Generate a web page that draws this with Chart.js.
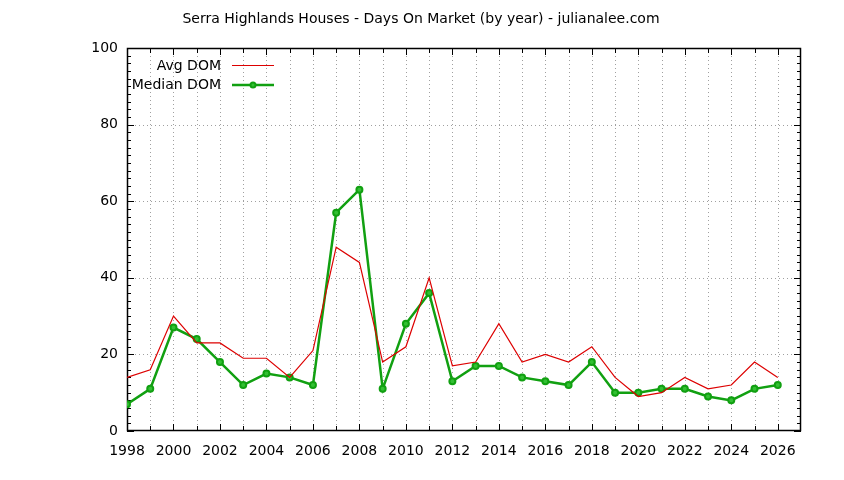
<!DOCTYPE html>
<html>
<head>
<meta charset="utf-8">
<script src="https://cdn.jsdelivr.net/npm/chart.js@4/dist/chart.umd.min.js"></script>
<style>
  html, body { margin: 0; padding: 0; background: #fff; }
  #wrap { width: 844px; height: 480px; }
</style>
</head>
<body>
<div id="wrap"><canvas id="domChart" width="844" height="480"></canvas></div>
<script>
var years = [1998, 1999, 2000, 2001, 2002, 2003, 2004, 2005, 2006, 2007, 2008, 2009, 2010, 2011,
             2012, 2013, 2014, 2015, 2016, 2017, 2018, 2019, 2020, 2021, 2022, 2023, 2024, 2025, 2026];
var avgDom = [14, 16, 30, 23, 23, 19, 19, 14, 21, 48, 44, 18, 22, 40,
              17, 18, 28, 18, 20, 18, 22, 14, 9, 10, 14, 11, 12, 18, 14];
var medianDom = [7, 11, 27, 24, 18, 12, 15, 14, 12, 57, 63, 11, 28, 36,
                 13, 17, 17, 14, 13, 12, 18, 10, 10, 11, 11, 9, 8, 11, 12];
var yTicks = [0, 20, 40, 60, 80, 100];
var titleText = 'Serra Highlands Houses - Days On Market (by year) - julianalee.com';

var FONT = '"DejaVu Sans", Verdana, sans-serif';
var FSIZE = 14;
var RED = '#dd0000';
var GREEN = '#11a011';

function toPoints(vals) {
    return years.map(function(y, i) { return { x: y, y: vals[i] }; });
}

var framePlugin = {
    id: 'frame',
    beforeDatasetsDraw: function(chart) {
        var c = chart.ctx, a = chart.chartArea;
        var xs = chart.scales.x, ys = chart.scales.y;
        c.save();
        // dotted grid
        c.strokeStyle = '#a0a0a0';
        c.lineWidth = 1;
        c.setLineDash([1, 3]);
        years.forEach(function(yr) {
            var px = Math.round(xs.getPixelForValue(yr)) + 0.5;
            if (px <= a.left + 1 || px >= a.right - 1) return;
            c.beginPath(); c.moveTo(px, a.top); c.lineTo(px, a.bottom); c.stroke();
        });
        yTicks.forEach(function(v) {
            var py = Math.round(ys.getPixelForValue(v)) + 0.5;
            if (py <= a.top + 1 || py >= a.bottom - 1) return;
            c.beginPath(); c.moveTo(a.left, py); c.lineTo(a.right, py); c.stroke();
        });
        c.setLineDash([]);
        // tick marks
        c.strokeStyle = '#000';
        c.beginPath();
        for (var v = 0; v <= 100; v += 2) {
            var py = Math.round(ys.getPixelForValue(v)) + 0.5;
            var len = (v % 20 === 0) ? 7 : 4;
            c.moveTo(a.left, py); c.lineTo(a.left + len, py);
            c.moveTo(a.right, py); c.lineTo(a.right - len, py);
        }
        years.forEach(function(yr) {
            var px = Math.round(xs.getPixelForValue(yr)) + 0.5;
            var len = (yr % 2 === 0) ? 7 : 5;
            c.moveTo(px, a.bottom); c.lineTo(px, a.bottom - len);
            c.moveTo(px, a.top); c.lineTo(px, a.top + len);
        });
        c.stroke();
        // border box
        c.lineWidth = 1.5;
        c.strokeRect(a.left + 0.5, a.top + 0.5, a.right - a.left - 1, a.bottom - a.top - 1);
        c.restore();
    },
    afterDraw: function(chart) {
        var c = chart.ctx;
        c.save();
        c.fillStyle = '#000';
        c.font = FSIZE + 'px ' + FONT;
        c.textBaseline = 'middle';
        c.textAlign = 'center';
        c.fillText(titleText, 421, 19);
        // legend
        c.textAlign = 'right';
        c.fillText('Avg DOM', 221, 66);
        c.fillText('Median DOM', 221, 85);
        c.strokeStyle = RED;
        c.lineWidth = 1;
        c.beginPath(); c.moveTo(232, 65.5); c.lineTo(274, 65.5); c.stroke();
        c.strokeStyle = GREEN;
        c.lineWidth = 2.5;
        c.beginPath(); c.moveTo(232, 85); c.lineTo(274, 85); c.stroke();
        c.fillStyle = '#33c033';
        c.lineWidth = 2;
        c.beginPath(); c.arc(253, 85, 2.5, 0, Math.PI * 2); c.fill(); c.stroke();
        c.restore();
    }
};

document.addEventListener('DOMContentLoaded', function() {
    var ctx = document.getElementById('domChart').getContext('2d');
    var myChart = new Chart(ctx, {
        type: 'line',
        data: {
            datasets: [{
                label: 'Avg DOM',
                data: toPoints(avgDom),
                borderColor: RED,
                borderWidth: 1.2,
                pointRadius: 0,
                tension: 0
            }, {
                label: 'Median DOM',
                data: toPoints(medianDom),
                borderColor: GREEN,
                backgroundColor: '#33c033',
                borderWidth: 2.5,
                pointRadius: 3,
                pointBorderWidth: 2,
                pointBorderColor: GREEN,
                pointBackgroundColor: '#33c033',
                tension: 0
            }]
        },
        options: {
            responsive: false,
            animation: false,
            layout: { padding: { top: 48, right: 43, left: 0, bottom: 0 } },
            plugins: {
                legend: { display: false },
                title: { display: false },
                tooltip: { enabled: false }
            },
            scales: {
                x: {
                    type: 'linear',
                    min: 1998,
                    max: 2027,
                    grid: { display: false, drawTicks: false },
                    border: { display: false },
                    afterFit: function(scale) { scale.height = 49; },
                    ticks: {
                        stepSize: 1,
                        includeBounds: false,
                        autoSkip: false,
                        maxRotation: 0,
                        padding: 12,
                        color: '#000',
                        font: { family: FONT, size: FSIZE },
                        callback: function(v) { return v % 2 === 0 ? String(v) : ''; }
                    }
                },
                y: {
                    min: 0,
                    max: 100,
                    grid: { display: false, drawTicks: false },
                    border: { display: false },
                    afterFit: function(scale) { scale.width = 127; },
                    afterBuildTicks: function(scale) {
                        scale.ticks = yTicks.map(function(v) { return { value: v }; });
                    },
                    ticks: {
                        padding: 9,
                        color: '#000',
                        font: { family: FONT, size: FSIZE }
                    }
                }
            }
        },
        plugins: [framePlugin]
    });
});
</script>
</body>
</html>
